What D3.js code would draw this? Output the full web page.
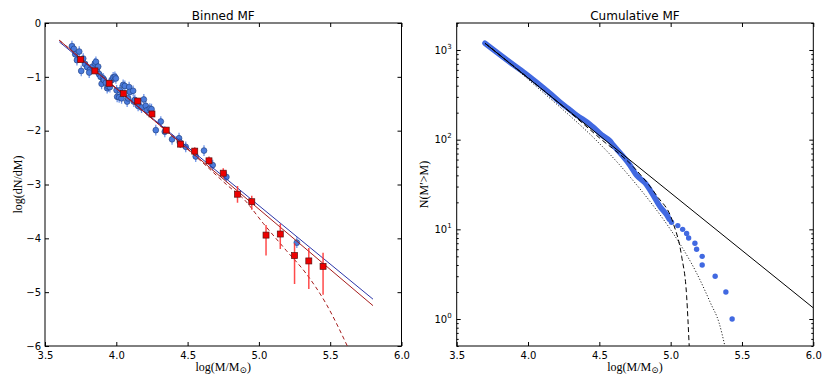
<!DOCTYPE html>
<html>
<head>
<meta charset="utf-8">
<script src="https://cdn.jsdelivr.net/npm/d3@7"></script>
<style>
  body { margin: 0; background: #fff; }
  svg text { font-family: "DejaVu Sans", sans-serif; fill: #000; }
  .serif { font-family: "Liberation Serif", "DejaVu Serif", serif; }
</style>
</head>
<body>
<svg id="chart" width="830" height="388"></svg>
<script>
// ---------- data: binned MF ----------
// individual clusters (blue): log mass and log(dN/dM)
const blueLogM = [3.689, 3.703, 3.712, 3.740, 3.724, 3.754, 3.768, 3.780, 3.796, 3.815,
                  3.810, 3.834, 3.850, 3.857, 3.866, 3.873, 3.880, 3.890, 3.897, 3.908,
                  3.913, 3.927, 3.936, 3.943, 3.955, 3.967, 3.978, 3.990, 3.997, 4.002,
                  4.006, 4.020, 4.025, 4.037, 4.048, 4.060, 4.076, 4.083, 4.090, 4.095,
                  4.118, 4.123, 4.130, 4.153, 4.177, 4.193, 4.207, 4.216, 4.235, 4.247,
                  4.277, 4.312, 4.340, 4.391, 4.440, 4.445, 4.487, 4.557, 4.615, 4.676,
                  4.772, 5.266];
const blueVal  = [-0.43, -0.48, -0.58, -0.53, -0.69, -0.89, -0.66, -0.76, -0.82, -0.87,
                  -0.92, -0.81, -0.75, -0.72, -0.90, -0.81, -0.95, -1.00, -1.13, -1.03,
                  -1.06, -1.11, -1.21, -1.18, -1.19, -1.06, -1.01, -1.00, -1.03, -1.25,
                  -1.37, -1.38, -1.25, -1.40, -1.15, -1.17, -1.46, -1.40, -1.19, -1.28,
                  -1.26, -1.46, -1.43, -1.54, -1.57, -1.42, -1.54, -1.62, -1.59, -1.60,
                  -1.99, -1.83, -2.02, -2.16, -2.14, -2.21, -2.30, -2.48, -2.37, -2.64,
                  -2.86, -4.08];
const blueErr = 0.1;

// binned (red): bin centres, values and asymmetric errors
const redLogM  = [3.75, 3.85, 3.95, 4.05, 4.15, 4.25, 4.35, 4.45, 4.55,
                  4.65, 4.75, 4.85, 4.95, 5.05, 5.15, 5.25, 5.35, 5.45];
const redVal   = [-0.68, -0.89, -1.12, -1.31, -1.45, -1.69, -1.99, -2.25, -2.38,
                  -2.56, -2.79, -3.18, -3.32, -3.94, -3.92, -4.32, -4.42, -4.52];
const redErrUp = [0.04, 0.04, 0.05, 0.05, 0.05, 0.06, 0.06, 0.07, 0.07,
                  0.08, 0.09, 0.15, 0.11, 0.19, 0.19, 0.23, 0.24, 0.25];
const redErrLo = [0.04, 0.04, 0.05, 0.05, 0.05, 0.06, 0.06, 0.07, 0.07,
                  0.08, 0.09, 0.16, 0.15, 0.38, 0.28, 0.53, 0.52, 0.53];

// fitted relations
const blueFit  = [[3.6, -0.35], [5.8, -5.13]];
const redFit   = [[3.6, -0.32], [5.8, -5.25]];
const redCurve = [[3.6, -0.32], [4.3, -1.89], [4.6, -2.58], [4.79, -3.04], [4.89, -3.26],
                  [5.03, -3.72], [5.19, -4.22], [5.33, -4.65], [5.47, -5.21], [5.62, -6.0]];

// ---------- data: cumulative MF ----------
const cumBand = [[3.698, 1190], [3.76, 1000], [3.827, 830], [3.90, 680], [3.967, 570],
                 [4.061, 435], [4.154, 328], [4.224, 262], [4.294, 215], [4.341, 188],
                 [4.434, 148], [4.457, 138], [4.516, 113], [4.574, 97], [4.597, 87],
                 [4.656, 68], [4.714, 52], [4.761, 40], [4.82, 33], [4.878, 24],
                 [4.925, 18], [4.972, 14.5], [4.99, 13]];
const tailLogM = [5.431, 5.387, 5.312, 5.221, 5.221, 5.182, 5.170, 5.126, 5.112, 5.084, 5.050, 5.006];
const tailN    = [1, 2, 3, 4, 5, 6, 7, 8, 9, 10, 11, 12];
const powerLaw   = [[3.7, 1183], [6.0, 1.33]];
const truncated  = [[3.7, 1183], [4.0, 490], [4.3, 198], [4.5, 105], [4.737, 50], [4.9, 24],
                    [5.018, 11.7], [5.077, 5.0], [5.112, 1.8], [5.13, 0.5]];
const schechter  = [[3.7, 1183], [3.9, 650], [4.06, 389], [4.22, 234], [4.46, 105], [4.63, 55],
                    [4.75, 33], [4.86, 20], [4.98, 11], [5.08, 6.3], [5.18, 3.3], [5.28, 1.5],
                    [5.34, 0.9], [5.38, 0.5]];

const xTicks = [3.5, 4.0, 4.5, 5.0, 5.5, 6.0];
const yTicksLeft = [-6, -5, -4, -3, -2, -1, 0];
const yTicksRight = [1, 10, 100, 1000];

// ---------- layout ----------
const svg = d3.select("#chart");

function frame(g, w, h, x, y, clipId) {
    g.append("clipPath").attr("id", clipId)
        .append("rect").attr("width", w).attr("height", h);
    // bottom + top
    g.append("g").attr("transform", `translate(0,${h})`)
        .call(d3.axisBottom(x).tickValues(xTicks).tickSize(-4).tickPadding(6).tickFormat(d3.format(".1f")));
    g.append("g")
        .call(d3.axisTop(x).tickValues(xTicks).tickSize(-4).tickFormat(""));
    g.selectAll(".domain").remove();
    g.selectAll(".tick text").attr("font-size", 10).attr("font-family", "DejaVu Sans");
    g.append("rect").attr("width", w).attr("height", h)
        .attr("fill", "none").attr("stroke", "#000").attr("stroke-width", 1);
}

// ===== left panel: binned MF =====
const L = {left: 45, top: 23, w: 356.5, h: 323};
const gl = svg.append("g").attr("transform", `translate(${L.left},${L.top})`);
const xl = d3.scaleLinear().domain([3.5, 6.0]).range([0, L.w]);
const yl = d3.scaleLinear().domain([-6, 0]).range([L.h, 0]);

gl.append("g").call(d3.axisLeft(yl).tickValues(yTicksLeft).tickSize(-4).tickPadding(4).tickFormat(d3.format("d")));
gl.append("g").attr("transform", `translate(${L.w},0)`)
    .call(d3.axisRight(yl).tickValues(yTicksLeft).tickSize(-4).tickFormat(""));
frame(gl, L.w, L.h, xl, yl, "clipL");

const pl = gl.append("g").attr("clip-path", "url(#clipL)");
const blue = blueLogM.map((m, i) => ({m, v: blueVal[i]}));
const red = redLogM.map((m, i) => ({m, v: redVal[i], up: redErrUp[i], lo: redErrLo[i]}));

// blue error bars + points
pl.selectAll(".berr").data(blue).enter().append("line")
    .attr("x1", d => xl(d.m)).attr("x2", d => xl(d.m))
    .attr("y1", d => yl(d.v + blueErr)).attr("y2", d => yl(d.v - blueErr))
    .attr("stroke", "#6f96ea").attr("stroke-width", 1.3);
pl.selectAll(".bpt").data(blue).enter().append("circle")
    .attr("cx", d => xl(d.m)).attr("cy", d => yl(d.v)).attr("r", 2.9)
    .attr("fill", "#4a7bdc").attr("stroke", "#1d3a7a").attr("stroke-width", 0.6);

const line = d3.line().x(d => xl(d[0])).y(d => yl(d[1]));
pl.append("path").attr("d", line(blueFit)).attr("fill", "none")
    .attr("stroke", "#2b35a8").attr("stroke-width", 1);
pl.append("path").attr("d", line(redFit)).attr("fill", "none")
    .attr("stroke", "#a51c1c").attr("stroke-width", 1);
pl.append("path").attr("d", line.curve(d3.curveMonotoneX)(redCurve)).attr("fill", "none")
    .attr("stroke", "#a51c1c").attr("stroke-width", 1).attr("stroke-dasharray", "4,3");

// red error bars + squares
pl.selectAll(".rerr").data(red).enter().append("line")
    .attr("x1", d => xl(d.m)).attr("x2", d => xl(d.m))
    .attr("y1", d => yl(d.v + d.up)).attr("y2", d => yl(d.v - d.lo))
    .attr("stroke", "#ff2a2a").attr("stroke-opacity", 0.85).attr("stroke-width", 1.5);
pl.selectAll(".rpt").data(red).enter().append("rect")
    .attr("x", d => xl(d.m) - 3).attr("y", d => yl(d.v) - 3)
    .attr("width", 6).attr("height", 6)
    .attr("fill", "#ee0000").attr("stroke", "#5a1010").attr("stroke-width", 0.7);

gl.append("text").attr("x", L.w / 2).attr("y", -3).attr("text-anchor", "middle")
    .attr("font-size", 12).text("Binned MF");

// ===== right panel: cumulative MF =====
const R = {left: 456.7, top: 23, w: 356.6, h: 323};
const gr = svg.append("g").attr("transform", `translate(${R.left},${R.top})`);
const xr = d3.scaleLinear().domain([3.5, 6.0]).range([0, R.w]);
const yr = d3.scaleLog().domain([0.5, 2000]).range([R.h, 0]);

const minor = [];
[0.1, 1, 10, 100, 1000].forEach(k => d3.range(2, 10).forEach(j => {
    const v = j * k;
    if (v >= 0.5 && v <= 2000) minor.push(v);
}));
gr.append("g").call(d3.axisLeft(yr).tickValues(minor).tickSize(-2).tickFormat(""));
gr.append("g").attr("transform", `translate(${R.w},0)`)
    .call(d3.axisRight(yr).tickValues(minor).tickSize(-2).tickFormat(""));
const yLab = gr.append("g").call(d3.axisLeft(yr).tickValues(yTicksRight).tickSize(-4).tickPadding(5).tickFormat(""));
gr.append("g").attr("transform", `translate(${R.w},0)`)
    .call(d3.axisRight(yr).tickValues(yTicksRight).tickSize(-4).tickFormat(""));
yLab.selectAll(".tick text").each(function (d) {
    const t = d3.select(this).attr("font-size", 10);
    t.text("10");
    t.append("tspan").attr("dy", -5).attr("font-size", 7).text(Math.round(Math.log10(d)));
});
frame(gr, R.w, R.h, xr, yr, "clipR");

const pr = gr.append("g").attr("clip-path", "url(#clipR)");
const lineR = d3.line().x(d => xr(d[0])).y(d => yr(d[1]));
pr.append("path").attr("d", lineR.curve(d3.curveMonotoneX)(cumBand)).attr("fill", "none")
    .attr("stroke", "#4169e1").attr("stroke-width", 5.5)
    .attr("stroke-linecap", "round").attr("stroke-linejoin", "round");
pr.selectAll(".tail").data(tailLogM).enter().append("circle")
    .attr("cx", d => xr(d)).attr("cy", (d, i) => yr(tailN[i])).attr("r", 2.7)
    .attr("fill", "#4169e1");
pr.append("path").attr("d", d3.line().x(d => xr(d[0])).y(d => yr(d[1]))(powerLaw))
    .attr("fill", "none").attr("stroke", "#000").attr("stroke-width", 1);
pr.append("path").attr("d", lineR.curve(d3.curveMonotoneX)(truncated))
    .attr("fill", "none").attr("stroke", "#000").attr("stroke-width", 1).attr("stroke-dasharray", "5,3");
pr.append("path").attr("d", lineR.curve(d3.curveMonotoneX)(schechter))
    .attr("fill", "none").attr("stroke", "#000").attr("stroke-width", 1).attr("stroke-dasharray", "1,2");

gr.append("text").attr("x", R.w / 2).attr("y", -3).attr("text-anchor", "middle")
    .attr("font-size", 12).text("Cumulative MF");

// ---------- axis titles ----------
function xTitle(cx) {
    const t = svg.append("text").attr("class", "serif").attr("x", cx).attr("y", 371)
        .attr("text-anchor", "middle").attr("font-size", 12);
    t.append("tspan").text("log(M/M");
    t.append("tspan").attr("dy", 2).attr("font-size", 9).text("⊙");
    t.append("tspan").attr("dy", -2).text(")");
}
xTitle(L.left + L.w / 2);
xTitle(R.left + R.w / 2);

svg.append("text").attr("class", "serif").attr("font-size", 12).attr("text-anchor", "middle")
    .attr("transform", `translate(22,${L.top + L.h / 2}) rotate(-90)`).text("log(dN/dM)");
svg.append("text").attr("class", "serif").attr("font-size", 12).attr("text-anchor", "middle")
    .attr("transform", `translate(428,${R.top + R.h / 2}) rotate(-90)`).text("N(M′>M)");
</script>
</body>
</html>
